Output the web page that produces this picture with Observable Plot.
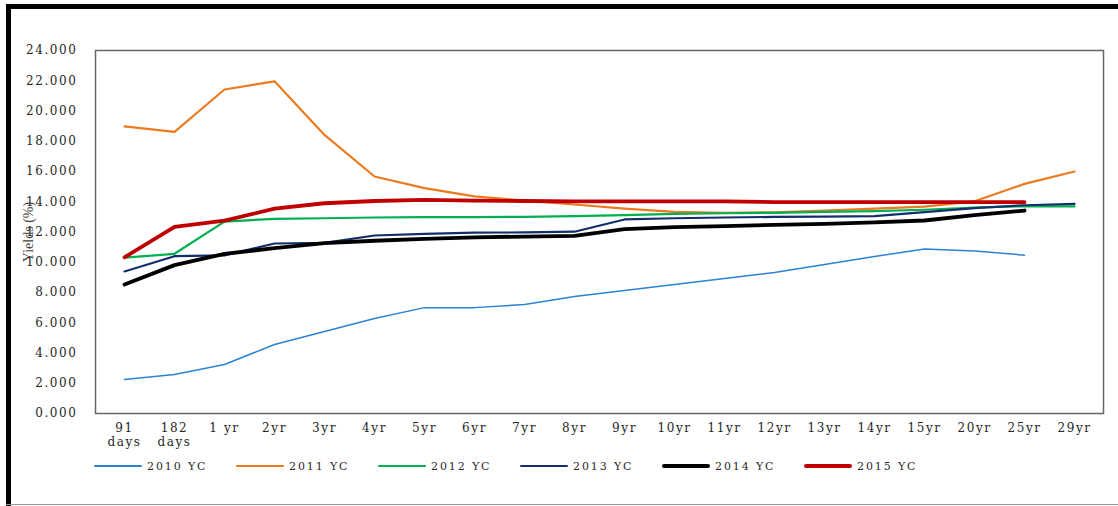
<!DOCTYPE html>
<html>
<head>
<meta charset="utf-8">
<script src="https://cdn.jsdelivr.net/npm/d3@7"></script>
<script src="https://cdn.jsdelivr.net/npm/@observablehq/plot@0.6"></script>
<style>
  html, body { margin: 0; padding: 0; background: #fff; }
  body { width: 1118px; height: 506px; position: relative; overflow: hidden; }
  #topbar { position: absolute; left: 6px; top: 4px; width: 1112px; height: 5px; background: #000; }
  #leftbar { position: absolute; left: 6px; top: 4px; width: 5px; height: 502px; background: #000; }
  #bottomline { position: absolute; left: 6px; top: 504px; width: 1112px; height: 1px; background: #999; }
  #chart { position: absolute; left: 0; top: 0; }
  #chart g[aria-label="y-axis tick label"] text,
  #chart g[aria-label="x-axis tick label"] text { letter-spacing: 1.6px; }
  #legend { position: absolute; left: 94px; top: 458px; display: flex; }
  .item { width: 142px; display: flex; align-items: center; height: 16px; }
  .sw { width: 48px; margin-right: 5px; border-radius: 2px; }
  .lab { font-family: "DejaVu Serif", serif; font-size: 11px; letter-spacing: 1.9px; color: #2a2a2a; white-space: nowrap; }
</style>
</head>
<body>
<div id="chart"></div>
<div id="topbar"></div>
<div id="leftbar"></div>
<div id="bottomline"></div>
<div id="legend"></div>
<script>
const tenors = ["91 days","182 days","1 yr","2yr","3yr","4yr","5yr","6yr","7yr","8yr","9yr","10yr","11yr","12yr","13yr","14yr","15yr","20yr","25yr","29yr"];
const yTicks = [0,2,4,6,8,10,12,14,16,18,20,22,24];

const y2010 = [2.25, 2.58, 3.24, 4.56, 5.42, 6.28, 7.0, 7.0, 7.2, 7.74, 8.13, 8.53, 8.93, 9.32, 9.85, 10.38, 10.88, 10.75, 10.47, null];
const y2011 = [18.98, 18.62, 21.42, 21.96, 18.42, 15.67, 14.9, 14.35, 14.08, 13.82, 13.55, 13.33, 13.27, 13.3, 13.42, 13.54, 13.68, 14.03, 15.18, 16.0];
const y2012 = [10.3, 10.56, 12.69, 12.87, 12.91, 12.96, 12.98, 12.98, 13.0, 13.05, 13.12, 13.2, 13.24, 13.27, 13.33, 13.38, 13.47, 13.62, 13.71, 13.69];
const y2013 = [9.39, 10.4, 10.45, 11.24, 11.28, 11.77, 11.88, 11.96, 11.97, 12.02, 12.83, 12.91, 12.96, 13.0, 13.02, 13.05, 13.31, 13.58, 13.77, 13.86];
const y2014 = [8.53, 9.81, 10.56, 10.93, 11.26, 11.42, 11.55, 11.65, 11.7, 11.74, 12.19, 12.32, 12.39, 12.47, 12.54, 12.63, 12.76, 13.11, 13.42, null];
const y2015 = [10.33, 12.34, 12.75, 13.54, 13.9, 14.05, 14.12, 14.08, 14.05, 14.03, 14.03, 14.03, 14.02, 13.98, 13.97, 13.97, 13.97, 13.97, 13.97, null];

const seriesNames = ["2010 YC","2011 YC","2012 YC","2013 YC","2014 YC","2015 YC"];
const seriesValues = [y2010, y2011, y2012, y2013, y2014, y2015];
const seriesColors = ["#2b83d2","#ec7a1f","#00b050","#132f6b","#000000","#c00000"];
const seriesWidths = [1.5, 2.2, 2.2, 2.2, 3.8, 3.8];

const lines = seriesNames.map((name, k) => {
  const data = tenors.map((t, i) => ({tenor: t, value: seriesValues[k][i]})).filter(d => d.value != null);
  return Plot.line(data, {x: "tenor", y: "value", stroke: seriesColors[k], strokeWidth: seriesWidths[k], strokeLinejoin: "round", strokeLinecap: "round"});
});

const chart = Plot.plot({
  width: 1118,
  height: 452,
  marginLeft: 95,
  marginRight: 15,
  marginTop: 50,
  marginBottom: 39,
  style: {fontFamily: "'DejaVu Serif', serif", fontSize: "12px", color: "#262626", background: "transparent"},
  x: {type: "point", domain: tenors, padding: 0.5, label: null},
  y: {domain: [0, 24], label: null},
  marks: [
    Plot.axisY({ticks: yTicks, tickFormat: d => d.toFixed(3), tickSize: 0, tickPadding: 18, label: null}),
    Plot.axisX({tickSize: 0, tickPadding: 9, tickFormat: d => d.replace(" days", "\ndays"), label: null, lineHeight: 1.15}),
    ...lines,
    Plot.frame({stroke: "#666", strokeWidth: 1.5}),
    Plot.text(["Yields (%)"], {frameAnchor: "left", textAnchor: "middle", rotate: -90, dx: -67, fontFamily: "'Liberation Serif', serif", fontSize: 14, fill: "#444"})
  ]
});
document.getElementById("chart").appendChild(chart);

const legend = document.getElementById("legend");
seriesNames.forEach((name, k) => {
  const item = document.createElement("div");
  item.className = "item";
  const sw = document.createElement("div");
  sw.className = "sw";
  sw.style.height = Math.max(1.5, seriesWidths[k]) + "px";
  sw.style.background = seriesColors[k];
  const lab = document.createElement("span");
  lab.className = "lab";
  lab.textContent = name;
  item.appendChild(sw);
  item.appendChild(lab);
  legend.appendChild(item);
});
</script>
</body>
</html>
